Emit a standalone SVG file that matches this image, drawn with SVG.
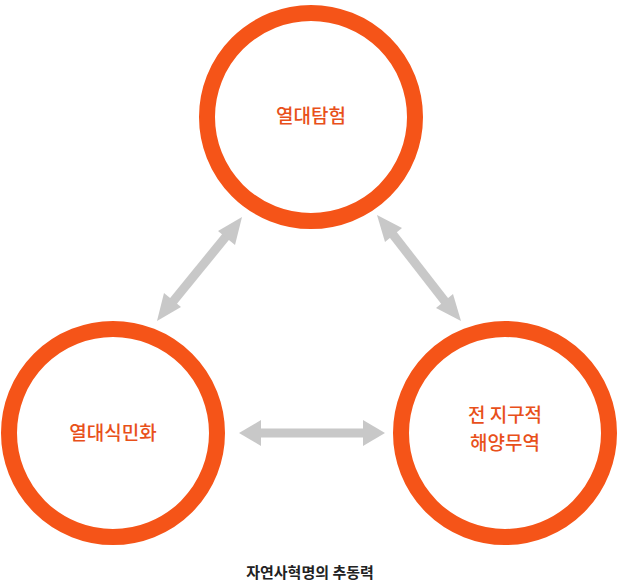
<svg xmlns="http://www.w3.org/2000/svg" width="619" height="581" viewBox="0 0 619 581">
<style>
.c{fill:#fff;stroke:#f55418;stroke-width:16}
.t{font-family:"Noto Sans CJK KR","Noto Sans",sans-serif;font-size:19px;fill:#e8501a;text-anchor:middle;font-weight:500}
.a{stroke:#c8c8c8;stroke-width:9;fill:none}
.h{fill:#c8c8c8}
</style>
<g id="connectors">
<line class="a" x1="171" y1="304" x2="228" y2="234"/>
<polygon class="h" points="242,217 235,245 218,231"/>
<polygon class="h" points="157,321 164,293 181,307"/>
<line class="a" x1="391" y1="232" x2="447" y2="304"/>
<polygon class="h" points="377,215 402,228 385,242"/>
<polygon class="h" points="461,321 436,308 453,294"/>
<line class="a" x1="258" y1="433" x2="366" y2="433"/>
<polygon class="h" points="239,433 261,420 261,446"/>
<polygon class="h" points="385,433 363,420 363,446"/>
</g>
<g id="n1"><circle class="c" cx="311" cy="117" r="104"/><text class="t" x="311" y="123">열대탐험</text></g>
<g id="n2"><circle class="c" cx="113" cy="433" r="104"/><text class="t" x="113" y="440">열대식민화</text></g>
<g id="n3"><circle class="c" cx="505" cy="433" r="104"/><text class="t" x="505" y="422">전 지구적</text><text class="t" x="505" y="450">해양무역</text></g>
<text x="310" y="578" font-family="Noto Sans CJK KR,sans-serif" font-size="15" font-weight="bold" fill="#222" text-anchor="middle">자연사혁명의 추동력</text>
</svg>
